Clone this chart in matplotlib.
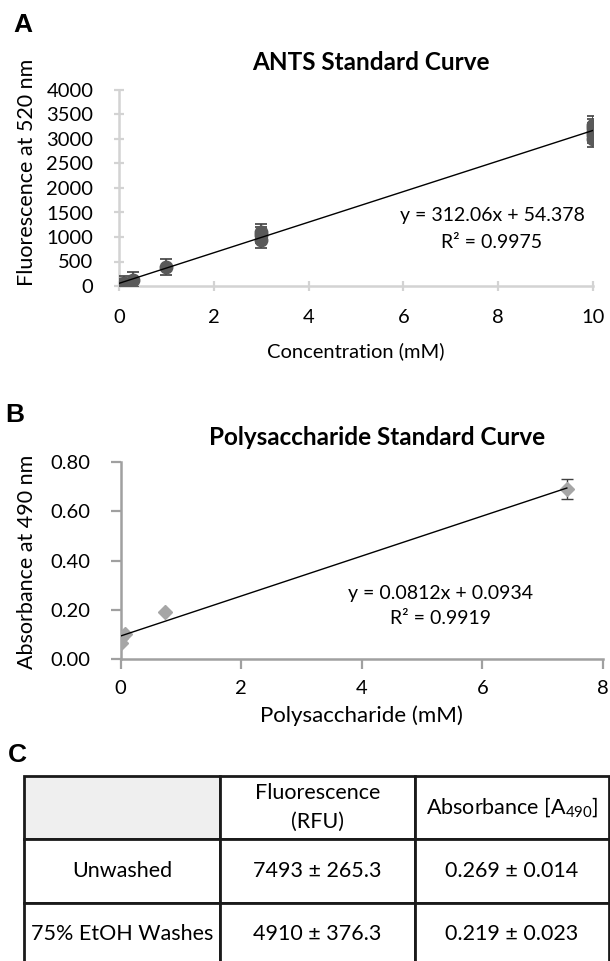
import matplotlib
matplotlib.use("Agg")
import matplotlib.pyplot as plt
import numpy as np

plt.rcParams['font.family'] = ['Lato', 'DejaVu Sans']
plt.rcParams['mathtext.default'] = 'regular'

# panel A: ANTS standard curve (replicates per concentration)
ants_conc = [0, 0.03, 0.1, 0.3, 1, 3, 3, 3, 10, 10, 10, 10, 10]
ants_fluor = [20, 40, 65, 130, 390, 940, 1040, 1100, 3000, 3080, 3150, 3230, 3290]
ants_err = [60, 80, 130, 150, 170, 160, 160, 160, 170, 170, 170, 170, 170]
ants_slope, ants_icpt, ants_r2 = 312.06, 54.378, 0.9975

# panel B: polysaccharide standard curve
poly_conc = [0, 0.0074, 0.074, 0.74, 7.4]
poly_abs = [0.065, 0.085, 0.10, 0.19, 0.69]
poly_err = [0, 0, 0, 0, 0.04]
poly_slope, poly_icpt, poly_r2 = 0.0812, 0.0934, 0.9919

# panel C: table
col_labels = ["", "Fluorescence\n(RFU)", r"Absorbance [A$_{490}$]"]
row_labels = ["Unwashed", "75% EtOH Washes"]
fluor_vals = ["7493 \u00b1 265.3", "4910 \u00b1 376.3"]
abs_vals = ["0.269 \u00b1 0.014", "0.219 \u00b1 0.023"]

W, H = 610, 961
fig = plt.figure(figsize=(W / 100, H / 100), dpi=100)


def style_axes(ax, spine_col, tick_dir, ypad, xpad):
    for s in ["top", "right"]:
        ax.spines[s].set_visible(False)
    for s in ["left", "bottom"]:
        ax.spines[s].set_color(spine_col)
        ax.spines[s].set_linewidth(1.8)
    ax.tick_params(axis="y", direction=tick_dir, length=7, width=1.6, color=spine_col,
                   labelsize=14.5, pad=ypad)
    ax.tick_params(axis="x", direction=tick_dir, length=7, width=1.6, color=spine_col,
                   labelsize=14.5, pad=xpad)
    ax.set_facecolor("none")


# ---- A ----
axA = fig.add_axes([119 / W, 1 - 286 / H, (593 - 119) / W, (286 - 90) / H])
axA.errorbar(ants_conc, ants_fluor, yerr=ants_err, fmt="o", color="#595959", ms=9,
             ecolor="#404040", elinewidth=1.2, capsize=4, capthick=1.2, zorder=3)
xx = np.array([0, 10])
axA.plot(xx, ants_slope * xx + ants_icpt, color="black", lw=1, zorder=4)
axA.set_xlim(0, 10)
axA.set_ylim(0, 4000)
axA.set_xticks([0, 2, 4, 6, 8, 10])
axA.set_yticks(np.arange(0, 4001, 500))
style_axes(axA, "#d3d3d3", "inout", 15, 13)
axA.set_xlabel("Concentration (mM)", fontsize=14.5, labelpad=12)
fig.text(27 / W, 1 - 172 / H, "Fluorescence at 520 nm", rotation=90, fontsize=15.5,
         ha="center", va="center")
fig.text(371 / W, 1 - 62 / H, "ANTS Standard Curve", fontsize=17.5, fontweight="bold",
         ha="center", va="center")
fig.text(492 / W, 1 - 215 / H, "y = %.2fx + %.3f" % (ants_slope, ants_icpt), fontsize=14,
         ha="center", va="center")
fig.text(492 / W, 1 - 243 / H, "R\u00b2 = %.4f" % ants_r2, fontsize=14,
         ha="center", va="center")
fig.text(23 / W, 1 - 25 / H, "A", fontsize=19, fontweight="bold",
         family="Liberation Sans", ha="center", va="center")

# ---- B ----
axB = fig.add_axes([120.6 / W, 1 - 659 / H, (603 - 120.6) / W, (659 - 462) / H])
axB.errorbar(poly_conc, poly_abs, yerr=poly_err, fmt="D", color="#a6a6a6", ms=7,
             ecolor="#404040", elinewidth=1, capsize=4, capthick=1, zorder=3)
xb = np.array([0, max(poly_conc)])
axB.plot(xb, poly_slope * xb + poly_icpt, color="black", lw=1, zorder=4)
axB.set_xlim(0, 8)
axB.set_ylim(0, 0.8)
axB.set_xticks([0, 2, 4, 6, 8])
axB.set_yticks([0, 0.2, 0.4, 0.6, 0.8])
axB.set_yticklabels(["%.2f" % v for v in [0, 0.2, 0.4, 0.6, 0.8]])
style_axes(axB, "#a0a0a0", "out", 15, 8)
axB.set_xlabel("Polysaccharide (mM)", fontsize=16, labelpad=6)
fig.text(27 / W, 1 - 562 / H, "Absorbance at 490 nm", rotation=90, fontsize=15.5,
         ha="center", va="center")
fig.text(377 / W, 1 - 437 / H, "Polysaccharide Standard Curve", fontsize=17.5,
         fontweight="bold", ha="center", va="center")
fig.text(440 / W, 1 - 593 / H, "y = %.4fx + %.4f" % (poly_slope, poly_icpt), fontsize=14,
         ha="center", va="center")
fig.text(440 / W, 1 - 618 / H, "R\u00b2 = %.4f" % poly_r2, fontsize=14,
         ha="center", va="center")
fig.text(15 / W, 1 - 415 / H, "B", fontsize=19, fontweight="bold",
         family="Liberation Sans", ha="center", va="center")

# ---- C ----
fig.text(17 / W, 1 - 755 / H, "C", fontsize=19, fontweight="bold",
         family="Liberation Sans", ha="center", va="center")
axC = fig.add_axes([24 / W, 1 - 966 / H, (609 - 24) / W, (966 - 776) / H])
axC.axis("off")
cells = [[r, f, a] for r, f, a in zip(row_labels, fluor_vals, abs_vals)]
tab = axC.table(cellText=[col_labels] + cells, cellLoc="center", bbox=[0, 0, 1, 1],
                colWidths=[196, 195, 194])
tab.auto_set_font_size(False)
tab.set_fontsize(15.5)
for (r, c), cell in tab.get_celld().items():
    cell.set_linewidth(2)
    cell.set_edgecolor("#1a1a1a")
    cell.get_text().set_linespacing(1.55)
    if r == 0 and c == 0:
        cell.set_facecolor("#efefef")

fig.savefig("out.png", dpi=100)
